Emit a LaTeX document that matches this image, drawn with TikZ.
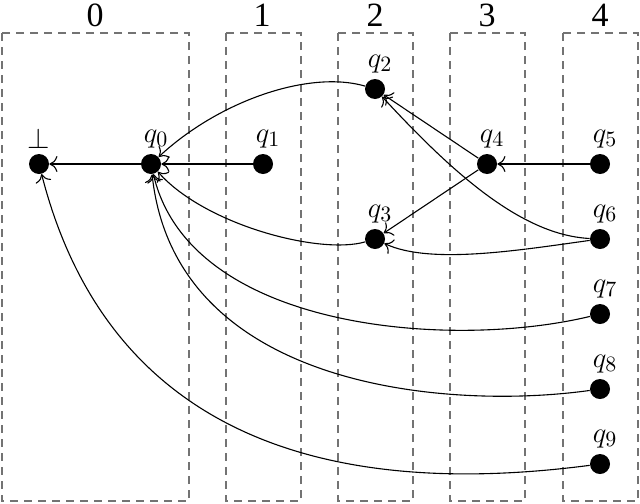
\documentclass[tikz,border=0pt]{standalone}
\usepackage{fontspec}
\newfontfamily\colfont{Liberation Serif}
\usetikzlibrary{arrows.meta}
\begin{document}
\begin{tikzpicture}[x=0.5pt,y=-0.5pt,
  st/.style={circle,fill=black,inner sep=0pt,minimum size=10pt},
  col/.style={draw=black!55,dash pattern=on 4pt off 3pt,line width=0.65pt},
  edge/.style={draw,line width=0.55pt,-{To[length=4pt,width=8pt]}},
  lbl/.style={font=\fontsize{15}{18}\selectfont,inner sep=1pt,label distance=1.5pt},
  clbl/.style={font=\colfont\fontsize{17}{20}\selectfont}]
\useasboundingbox (0,0) rectangle (640,503);
% columns
\draw[col] (2,33) rectangle (189,501);
\draw[col] (226,33) rectangle (301,501);
\draw[col] (338,33) rectangle (413,501);
\draw[col] (450,33) rectangle (525,501);
\draw[col] (563,33) rectangle (638,501);
\node[clbl] (c0) at (95,15) {0};
\node[clbl] (c1) at (262,15) {1};
\node[clbl] (c2) at (375,15) {2};
\node[clbl] (c3) at (487,15) {3};
\node[clbl] (c4) at (600,15) {4};
% states
\node[st,label={[lbl]90:$\bot$}] (bot) at (39,164) {};
\node[st,label={[lbl,xshift=2.5pt]90:$q_0$}] (q0) at (151,164) {};
\node[st,label={[lbl,xshift=2.5pt]90:$q_1$}] (q1) at (263,164) {};
\node[st,label={[lbl,xshift=2.5pt]90:$q_2$}] (q2) at (375,89) {};
\node[st,label={[lbl,xshift=2.5pt]90:$q_3$}] (q3) at (375,239) {};
\node[st,label={[lbl,xshift=2.5pt]90:$q_4$}] (q4) at (487,164) {};
\node[st,label={[lbl,xshift=2.5pt]90:$q_5$}] (q5) at (600,164) {};
\node[st,label={[lbl,xshift=2.5pt]90:$q_6$}] (q6) at (600,239) {};
\node[st,label={[lbl,xshift=2.5pt]90:$q_7$}] (q7) at (600,314) {};
\node[st,label={[lbl,xshift=2.5pt]90:$q_8$}] (q8) at (600,389) {};
\node[st,label={[lbl,xshift=2.5pt]90:$q_9$}] (q9) at (600,464) {};
% transitions
\draw[edge] (q0) -- (bot);
\draw[edge] (q1) -- (q0);
\draw[edge] (q5) -- (q4);
\draw[edge] (q4) -- (q2);
\draw[edge] (q4) -- (q3);
\draw[edge] (q2) .. controls (310,70) and (220,100) .. (q0);
\draw[edge] (q3) .. controls (320,255) and (205,225) .. (q0);
\draw[edge] (q6) .. controls (520,235) and (450,170) .. (q2);
\draw[edge] (q6) .. controls (520,250) and (430,265) .. (q3);
\draw[edge] (q7) .. controls (450,350) and (190,330) .. (q0);
\draw[edge] (q8) .. controls (450,410) and (175,390) .. (q0);
\draw[edge] (q9) .. controls (400,490) and (120,480) .. (bot);
\end{tikzpicture}
\end{document}
